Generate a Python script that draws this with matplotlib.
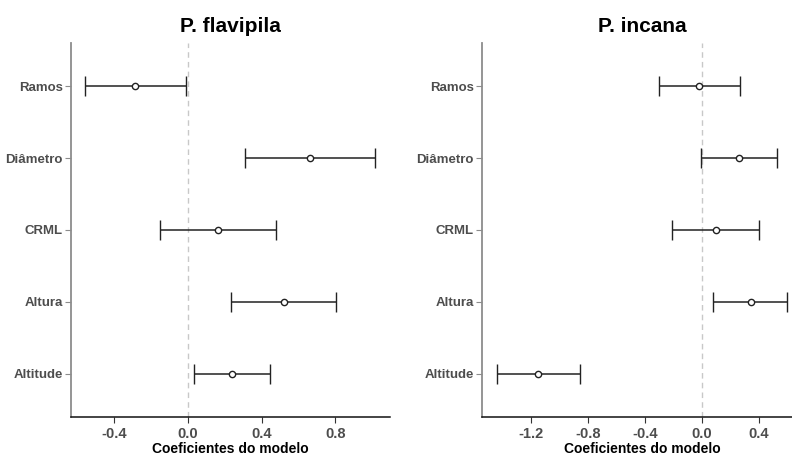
import numpy as np
import matplotlib.pyplot as plt

plt.rcParams['font.family'] = ['Liberation Sans', 'DejaVu Sans']

variaveis = ["Altitude", "Altura", "CRML", "Diâmetro", "Ramos"]

# P. flavipila
flav_coef = [0.240, 0.521, 0.164, 0.663, -0.286]
flav_low = [0.034, 0.234, -0.153, 0.308, -0.557]
flav_high = [0.445, 0.802, 0.479, 1.018, -0.012]
flav_ticks = [-0.4, 0.0, 0.4, 0.8]

# P. incana
inc_coef = [-1.147, 0.344, 0.100, 0.260, -0.017]
inc_low = [-1.441, 0.082, -0.210, -0.007, -0.300]
inc_high = [-0.852, 0.600, 0.404, 0.531, 0.267]
inc_ticks = [-1.2, -0.8, -0.4, 0.0, 0.4]

fig = plt.figure(figsize=(7.92, 4.57), dpi=100)
ax1 = fig.add_axes([0.0896, 0.0875, 0.4028, 0.8185])
ax2 = fig.add_axes([0.6086, 0.0875, 0.4037, 0.8185])


def painel(ax, titulo, coef, low, high, ticks):
    y = np.arange(1, len(variaveis) + 1)
    coef = np.array(coef)
    low = np.array(low)
    high = np.array(high)
    ax.axvline(0, color="#c8c8c8", linestyle=(0, (4, 3)), linewidth=1, zorder=1)
    ax.errorbar(coef, y, xerr=[coef - low, high - coef], fmt="o", color="#222222",
                ecolor="#222222", elinewidth=1.1, capsize=7, capthick=1.1,
                markersize=4.5, markerfacecolor="white", markeredgewidth=1.0, zorder=3)
    rng = high.max() - low.min()
    ax.set_xlim(low.min() - 0.05 * rng, high.max() + 0.05 * rng)
    ax.set_ylim(0.4, len(variaveis) + 0.6)
    ax.set_yticks(y)
    ax.set_yticklabels(variaveis)
    ax.set_xticks(ticks)
    ax.set_xticklabels([f"{t:.1f}" for t in ticks])
    for s in ["top", "right"]:
        ax.spines[s].set_visible(False)
    ax.spines["left"].set_color("#8c8c8c")
    ax.spines["left"].set_linewidth(1.3)
    ax.spines["bottom"].set_color("#111111")
    ax.spines["bottom"].set_linewidth(1.1)
    ax.tick_params(axis="y", colors="#8c8c8c", length=4, pad=2, labelsize=9.5,
                   labelcolor="#4d4d4d")
    ax.tick_params(axis="x", colors="#333333", length=4, pad=3, labelsize=10.5,
                   labelcolor="#4d4d4d")
    for lab in ax.get_xticklabels() + ax.get_yticklabels():
        lab.set_fontweight("bold")
    ax.set_title(titulo, fontsize=15, fontweight="bold", pad=8)
    ax.set_xlabel("Coeficientes do modelo", fontsize=10, fontweight="bold", labelpad=1)


painel(ax1, "P. flavipila", flav_coef, flav_low, flav_high, flav_ticks)
painel(ax2, "P. incana", inc_coef, inc_low, inc_high, inc_ticks)

fig.savefig("out.png", dpi=100)
